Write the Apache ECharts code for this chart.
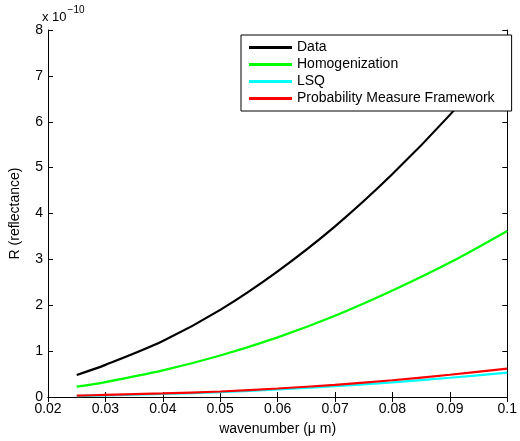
<!DOCTYPE html>
<html>
<head>
<meta charset="utf-8">
<script src="https://cdn.jsdelivr.net/npm/echarts@6/dist/echarts.min.js"></script>
<style>
  html, body { margin: 0; padding: 0; background: #fff; }
  #chart { width: 520px; height: 441px; }
</style>
</head>
<body>
<div id="chart"></div>
<script>
// wavenumber (um) and reflectance values, in units of 1e-10
const wavenumber = [0.025, 0.03, 0.04, 0.05, 0.06, 0.07, 0.08, 0.09, 0.1];
const dataR = [0.48, 0.70, 1.22, 1.90, 2.74, 3.72, 4.86, 6.15, 7.6];
const homogR = [0.225, 0.326, 0.58, 0.905, 1.30, 1.77, 2.32, 2.93, 3.62];
const lsqR = [0.02, 0.035, 0.065, 0.105, 0.165, 0.235, 0.32, 0.42, 0.53];
const pmfR = [0.03, 0.045, 0.078, 0.12, 0.185, 0.265, 0.365, 0.485, 0.62];
const seriesNames = ['Data', 'Homogenization', 'LSQ', 'Probability Measure Framework'];
const seriesColors = ['#000000', '#00ff00', '#00ffff', '#ff0000'];

const FONT = 'Liberation Sans';

function pairs(ys) {
    return wavenumber.map(function (x, i) { return [x, ys[i]]; });
}

let myChart = echarts.init(document.getElementById('chart'), null, {renderer: 'canvas'});

let axisCommon = {
    axisLine: {show: true, lineStyle: {color: '#000', width: 1}},
    axisTick: {show: true, inside: true, length: 5, lineStyle: {color: '#000'}},
    splitLine: {show: false}
};

let option = {
    backgroundColor: '#fff',
    animation: false,
    grid: {left: 42, right: 9, top: 30, bottom: 44, containLabel: false},
    legend: {
        orient: 'vertical',
        left: 241,
        top: 35,
        width: 270,
        padding: [5, 17, 5, 8],
        itemGap: 2,
        itemWidth: 43,
        itemHeight: 3,
        icon: 'rect',
        borderColor: '#000',
        borderWidth: 1,
        borderRadius: 0,
        backgroundColor: '#fff',
        textStyle: {fontFamily: FONT, fontSize: 14, color: '#000', lineHeight: 15, padding: [0, 0, 0, 0]},
        data: seriesNames
    },
    xAxis: [
        Object.assign({
            type: 'value', min: 0.02, max: 0.1, interval: 0.01,
            name: 'wavenumber (\u03bc m)', nameLocation: 'middle', nameGap: 25,
            nameTextStyle: {fontFamily: FONT, fontSize: 14, color: '#000'},
            axisLabel: {
                fontFamily: FONT, fontSize: 14, color: '#000', margin: 5,
                formatter: function (v) { return String(+v.toFixed(2)); }
            }
        }, axisCommon),
        Object.assign({
            type: 'value', min: 0.02, max: 0.1, interval: 0.01, position: 'top',
            axisLabel: {show: false}
        }, axisCommon)
    ],
    yAxis: [
        Object.assign({
            type: 'value', min: 0, max: 8, interval: 1,
            name: 'R (reflectance)', nameLocation: 'middle', nameGap: 26,
            nameTextStyle: {fontFamily: FONT, fontSize: 14, color: '#000'},
            axisLabel: {fontFamily: FONT, fontSize: 14, color: '#000', margin: 5}
        }, axisCommon),
        Object.assign({
            type: 'value', min: 0, max: 8, interval: 1, position: 'right',
            axisLabel: {show: false}
        }, axisCommon)
    ],
    graphic: [{
        type: 'text',
        left: 42,
        top: 5,
        style: {
            text: '{b|x 10}{s|\u221210}',
            rich: {
                b: {fontFamily: FONT, fontSize: 13, fill: '#000', padding: [10, 0, 0, 0]},
                s: {fontFamily: FONT, fontSize: 10, fill: '#000', padding: [0, 0, 5, 1]}
            }
        }
    }],
    series: [dataR, homogR, lsqR, pmfR].map(function (ys, i) {
        return {
            name: seriesNames[i],
            type: 'line',
            data: pairs(ys),
            smooth: 0.3,
            showSymbol: false,
            symbol: 'none',
            color: seriesColors[i],
            lineStyle: {color: seriesColors[i], width: 2.2},
            z: 2 + i
        };
    })
};

myChart.setOption(option);
</script>
</body>
</html>
